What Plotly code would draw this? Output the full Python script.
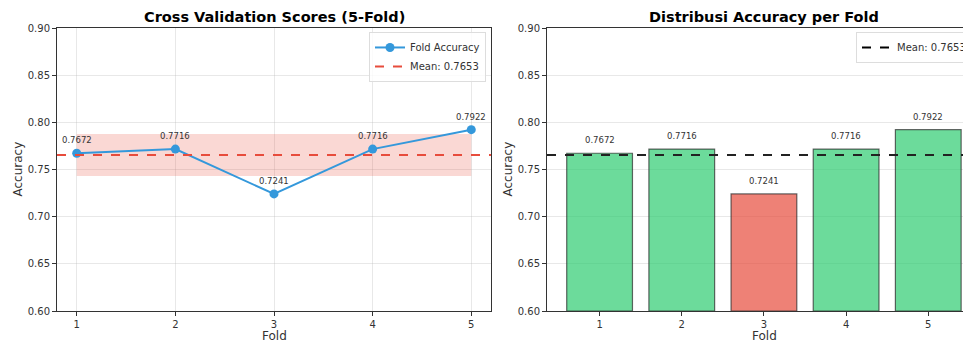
import plotly.graph_objects as go

folds = [1, 2, 3, 4, 5]
scores = [0.7672, 0.7716, 0.7241, 0.7716, 0.7922]
mean_score = 0.7653
band_low = 0.7430
band_high = 0.7877
bar_colors = ["rgba(46,204,113,0.7)", "rgba(46,204,113,0.7)", "rgba(231,76,60,0.7)",
              "rgba(46,204,113,0.7)", "rgba(46,204,113,0.7)"]
y_ticks = [0.60, 0.65, 0.70, 0.75, 0.80, 0.85, 0.90]

FONT = "DejaVu Sans"
# page body has an 8px margin, so the figure is laid out 8px smaller
W, H = 963, 336
OFF = 8
fig = go.Figure()

# left: band
fig.add_trace(go.Scatter(x=folds, y=[band_high] * len(folds), mode="lines",
                         line=dict(width=0), showlegend=False, hoverinfo="skip",
                         xaxis="x", yaxis="y"))
fig.add_trace(go.Scatter(x=folds, y=[band_low] * len(folds), mode="lines",
                         line=dict(width=0), fill="tonexty",
                         fillcolor="rgba(231,76,60,0.22)", showlegend=False,
                         hoverinfo="skip", xaxis="x", yaxis="y"))
fig.add_trace(go.Scatter(x=folds, y=scores, mode="lines+markers", name="Fold Accuracy",
                         line=dict(color="#3498db", width=2),
                         marker=dict(size=9, color="#3498db"),
                         xaxis="x", yaxis="y", legend="legend"))
fig.add_trace(go.Scatter(x=[None], y=[None], mode="lines", name=f"Mean: {mean_score:.4f}",
                         line=dict(color="#e74c3c", width=2, dash="dash"),
                         xaxis="x", yaxis="y", legend="legend"))

# right: bars
fig.add_trace(go.Bar(x=folds, y=[s - 0.6 for s in scores], base=0.6, width=0.8,
                     marker=dict(color=bar_colors, line=dict(color="rgba(40,40,40,0.7)", width=1.2)),
                     showlegend=False, xaxis="x2", yaxis="y2"))
fig.add_trace(go.Scatter(x=[None], y=[None], mode="lines", name=f"Mean: {mean_score:.4f}",
                         line=dict(color="black", width=2, dash="dash"),
                         xaxis="x2", yaxis="y2", legend="legend2"))

shapes = [
    dict(type="line", xref="x domain", yref="y", x0=0, x1=1, y0=mean_score, y1=mean_score,
         line=dict(color="#e74c3c", width=2, dash="dash")),
    dict(type="line", xref="x2 domain", yref="y2", x0=0, x1=1, y0=mean_score, y1=mean_score,
         line=dict(color="#222222", width=2, dash="dash")),
]

annotations = []
for f, s in zip(folds, scores):
    for xr, yr in (("x", "y"), ("x2", "y2")):
        annotations.append(dict(x=f, y=s, xref=xr, yref=yr, text=f"{s:.4f}", showarrow=False,
                                yshift=13, font=dict(family=FONT, size=8.5, color="#333333")))

def px(v):
    return (v - OFF) / W

plot_l, plot_r = px(57), px(491)
plot2_l = px(547)
title_font = dict(family=FONT, size=14.5, color="black")
label_font = dict(family=FONT, size=12, color="#333333")
annotations += [
    dict(x=px(274), y=1, xref="paper", yref="paper", xanchor="center",
         text="<b>Cross Validation Scores (5-Fold)</b>", showarrow=False,
         yanchor="bottom", yshift=1, font=title_font),
    dict(x=px(764), y=1, xref="paper", yref="paper", xanchor="center",
         text="<b>Distribusi Accuracy per Fold</b>", showarrow=False,
         yanchor="bottom", yshift=1, font=title_font),
    dict(x=px(274), y=0, xref="paper", yref="paper", xanchor="center",
         yanchor="middle", yshift=-25, text="Fold", showarrow=False, font=label_font),
    dict(x=px(764), y=0, xref="paper", yref="paper", xanchor="center",
         yanchor="middle", yshift=-25, text="Fold", showarrow=False, font=label_font),
    dict(x=px(17), y=0.5, xref="paper", yref="paper", xanchor="center", yanchor="middle",
         text="Accuracy", textangle=-90, showarrow=False, font=label_font),
    dict(x=px(507), y=0.5, xref="paper", yref="paper", xanchor="center", yanchor="middle",
         text="Accuracy", textangle=-90, showarrow=False, font=label_font),
]

axis_common = dict(showline=True, linecolor="#333333", linewidth=1, ticks="outside",
                   ticklen=4, tickcolor="#333333", tickfont=dict(family=FONT, size=10, color="#333333"),
                   gridcolor="rgba(180,180,180,0.3)", zeroline=False, automargin=False)

fig.update_layout(
    width=W, height=H, margin=dict(l=0, r=0, t=28 - OFF, b=33, autoexpand=False),
    paper_bgcolor="white", plot_bgcolor="white",
    font=dict(family=FONT),
    xaxis=dict(domain=[plot_l, plot_r], range=[0.8, 5.2], tickvals=folds, showgrid=True,
               mirror=True, anchor="y", **axis_common),
    yaxis=dict(domain=[0, 1], range=[0.6, 0.9], tickvals=y_ticks, tickformat=".2f",
               showgrid=True, mirror=True, anchor="x", **axis_common),
    xaxis2=dict(domain=[plot2_l, 1], range=[0.36, 5.52], tickvals=folds, showgrid=False,
                mirror=True, anchor="y2", **axis_common),
    yaxis2=dict(domain=[0, 1], range=[0.6, 0.9], tickvals=y_ticks, tickformat=".2f",
                showgrid=True, mirror=False, anchor="x2", **axis_common),
    legend=dict(x=px(486), xanchor="right", y=0.986, yanchor="top", traceorder="normal",
                bgcolor="rgba(255,255,255,0.8)", bordercolor="#dddddd", borderwidth=1,
                font=dict(family=FONT, size=10, color="#333333"), tracegroupgap=0,
                itemwidth=30),
    legend2=dict(x=px(856), xanchor="left", y=0.986, yanchor="top", traceorder="normal",
                 bgcolor="rgba(255,255,255,0.8)", bordercolor="#dddddd", borderwidth=1,
                 font=dict(family=FONT, size=10, color="#333333"), itemwidth=30),
    shapes=shapes, annotations=annotations, bargap=0.2,
)

fig.write_html("out.html")
